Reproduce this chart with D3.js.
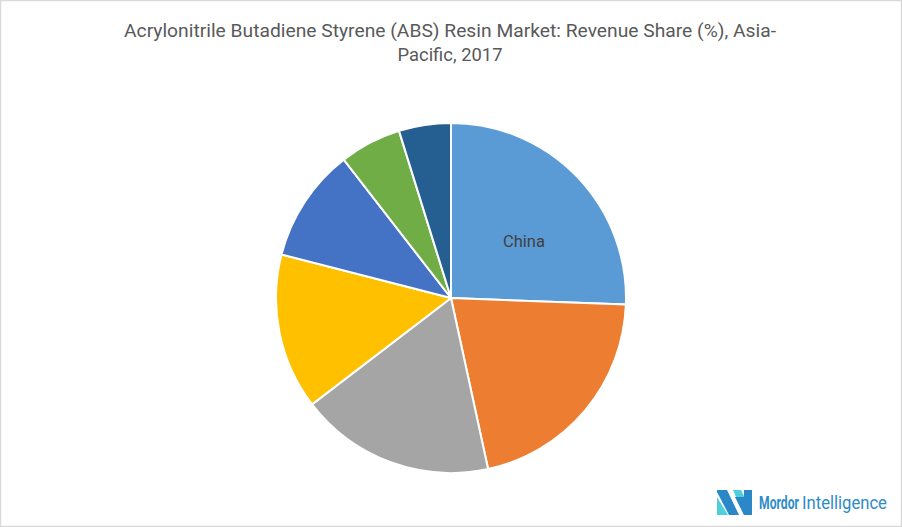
<!DOCTYPE html>
<html>
<head>
<meta charset="utf-8">
<script src="https://cdn.jsdelivr.net/npm/d3@7"></script>
<style>
  html, body { margin: 0; padding: 0; background: #fff; }
  svg { display: block; }
</style>
</head>
<body>
<svg id="chart" width="902" height="527"></svg>
<script>
const categories = ["China", "Japan", "India", "South Korea", "Taiwan", "ASEAN", "Rest of Asia-Pacific"];
const shares = [25.6, 21.0, 18.0, 14.4, 10.5, 5.7, 4.8];
const colors = ["#5B9BD5", "#ED7D31", "#A5A5A5", "#FFC000", "#4472C4", "#70AD47", "#255E91"];
const shownLabels = ["China"];
const titleLines = ["Acrylonitrile Butadiene Styrene (ABS) Resin Market: Revenue Share (%), Asia-", "Pacific, 2017"];

const W = 902, H = 527;
const svg = d3.select("#chart");
const font = "Roboto, 'DejaVu Sans Condensed', sans-serif";

// border
svg.append("rect").attr("x", 0.5).attr("y", 0.5).attr("width", W - 1).attr("height", H - 1)
  .attr("fill", "#fff").attr("stroke", "#D9D9D9").attr("stroke-width", 1.5);

// title
const titleWidths = [652, 105];
svg.selectAll("text.title").data(titleLines).join("text")
  .attr("class", "title")
  .attr("x", 450).attr("y", (d, i) => 37 + i * 23.5)
  .attr("text-anchor", "middle")
  .attr("font-family", font).attr("font-size", 18.5)
  .attr("fill", "#595959")
  .attr("textLength", (d, i) => titleWidths[i])
  .attr("lengthAdjust", "spacingAndGlyphs")
  .text(d => d);

// pie
const cx = 451, cy = 298, r = 175;
const pie = d3.pie().sort(null).value(d => d.v).startAngle(0).endAngle(2 * Math.PI);
const data = categories.map((c, i) => ({ c, v: shares[i], col: colors[i] }));
const arcs = pie(data);
const arc = d3.arc().innerRadius(0).outerRadius(r);
const labelArc = d3.arc().innerRadius(93).outerRadius(93);

const g = svg.append("g").attr("transform", `translate(${cx},${cy})`);
g.selectAll("path").data(arcs).join("path")
  .attr("d", arc)
  .attr("fill", d => d.data.col)
  .attr("stroke", "#fff").attr("stroke-width", 2).attr("stroke-linejoin", "round");

g.selectAll("text.lbl").data(arcs.filter(d => shownLabels.includes(d.data.c))).join("text")
  .attr("class", "lbl")
  .attr("transform", d => { const [x, y] = labelArc.centroid(d); return `translate(${x + 6},${y + 8})`; })
  .attr("text-anchor", "middle").attr("dy", "0.35em")
  .attr("font-family", font).attr("font-size", 17)
  .attr("fill", "#404040")
  .attr("textLength", 42).attr("lengthAdjust", "spacingAndGlyphs")
  .text(d => d.data.c);

// logo
const logo = svg.append("g");
logo.append("polygon").attr("points", "717,497 717,515 728,515").attr("fill", "#4DD0DA");
logo.append("polygon").attr("points", "717,490 727,490 739,515 729,515 717,492").attr("fill", "#2B88C8");
logo.append("polygon").attr("points", "733,490 741,490 752,512 744,515").attr("fill", "#4DD0DA");
logo.append("polygon").attr("points", "744,490 752,490 752,515 744,515 735,497 744,497").attr("fill", "#2B88C8");
function squeezed(txt, x, y, target, weight) {
  const t = logo.append("text")
    .attr("font-family", font).attr("font-size", 19).attr("font-weight", weight)
    .attr("fill", "#2E8BC9").text(txt);
  const w = t.node().getComputedTextLength();
  t.attr("transform", `translate(${x},${y}) scale(${target / w},1)`);
}
squeezed("Mordor", 759, 509, 40, "bold");
squeezed("Intelligence", 802, 509, 85, "normal");
</script>
</body>
</html>
